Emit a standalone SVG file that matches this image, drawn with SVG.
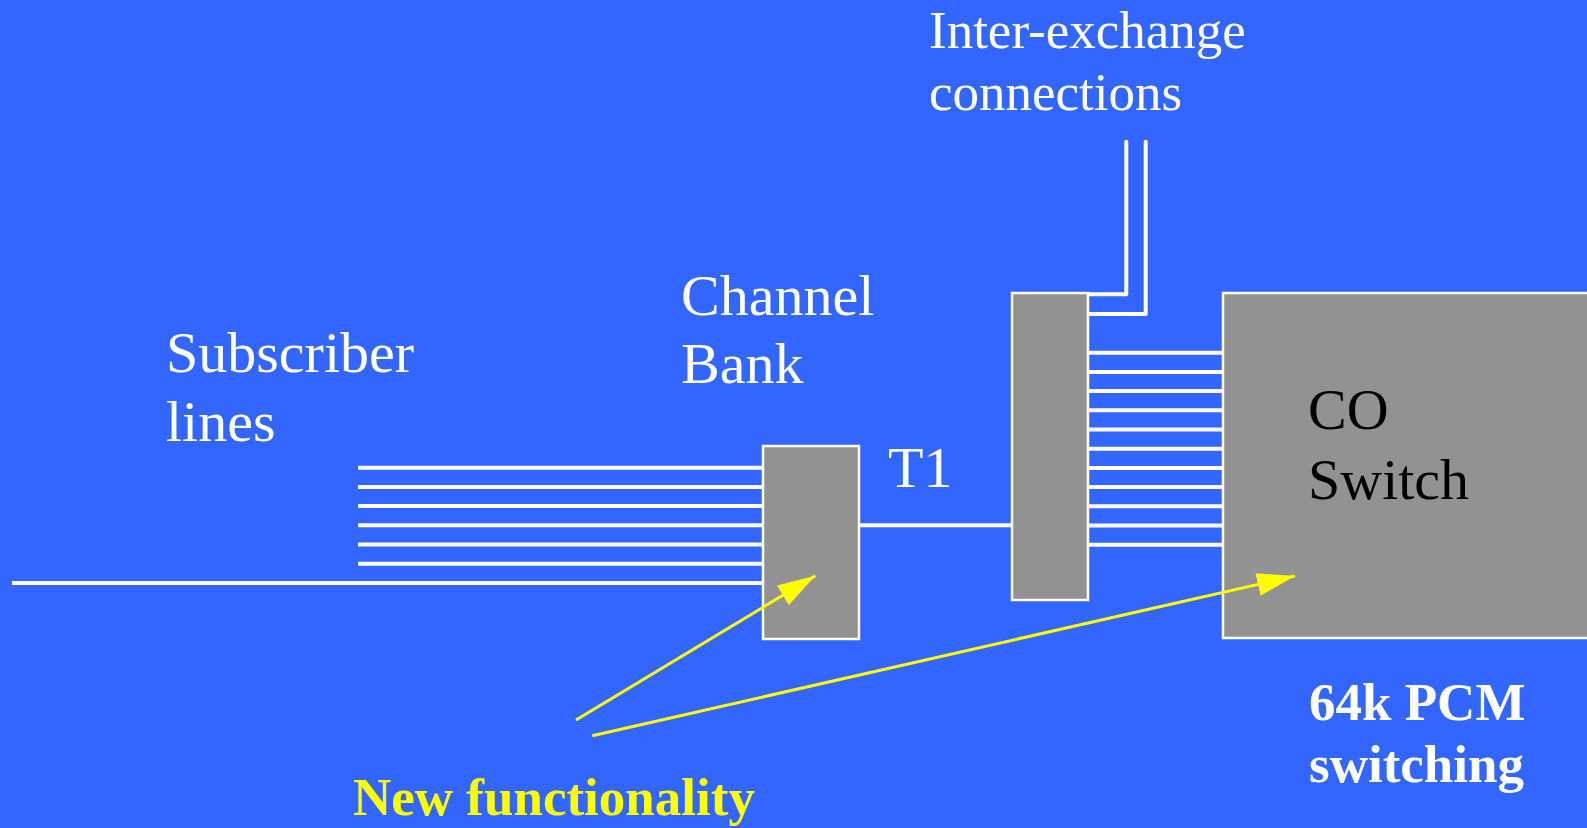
<svg xmlns="http://www.w3.org/2000/svg" width="1587" height="828" viewBox="0 0 1587 828">
<defs>
<style>
.bg{fill:#3366FF}
.box{fill:#929292;stroke:#FFFFFF;stroke-width:2.5}
.wire{stroke:#FFFFFF;stroke-width:4;fill:none;stroke-linecap:butt}
.ix{stroke:#FFFFFF;stroke-width:4;fill:none;stroke-linecap:round;stroke-linejoin:round}
.ptr{stroke:#FFFF00;stroke-width:3;fill:none}
.t{font-family:"Liberation Serif","Times New Roman",serif;fill:#FFFFFF}
.blk{fill:#000000}
.b{font-weight:bold}
.y{fill:#FFFF00}
</style>
<marker id="ah" markerUnits="userSpaceOnUse" markerWidth="40" markerHeight="24" refX="38" refY="11.5" orient="auto" viewBox="0 0 40 24">
<path d="M0,0 L38,11.5 L0,23 Z" fill="#FFFF00"/>
</marker>
</defs>
<rect class="bg" x="0" y="0" width="1587" height="828"/>

<g id="connectors">
<line class="wire" x1="358" y1="467.7" x2="763" y2="467.7"/>
<line class="wire" x1="358" y1="486.9" x2="763" y2="486.9"/>
<line class="wire" x1="358" y1="506.1" x2="763" y2="506.1"/>
<line class="wire" x1="358" y1="525.3" x2="763" y2="525.3"/>
<line class="wire" x1="358" y1="544.5" x2="763" y2="544.5"/>
<line class="wire" x1="358" y1="563.7" x2="763" y2="563.7"/>
<line class="wire" x1="12" y1="583" x2="763" y2="583"/>
<line class="wire" x1="859" y1="525.3" x2="1012" y2="525.3"/>
<line class="wire" x1="1088" y1="352.7" x2="1223" y2="352.7"/>
<line class="wire" x1="1088" y1="371.9" x2="1223" y2="371.9"/>
<line class="wire" x1="1088" y1="391.1" x2="1223" y2="391.1"/>
<line class="wire" x1="1088" y1="410.3" x2="1223" y2="410.3"/>
<line class="wire" x1="1088" y1="429.5" x2="1223" y2="429.5"/>
<line class="wire" x1="1088" y1="448.7" x2="1223" y2="448.7"/>
<line class="wire" x1="1088" y1="467.9" x2="1223" y2="467.9"/>
<line class="wire" x1="1088" y1="487.1" x2="1223" y2="487.1"/>
<line class="wire" x1="1088" y1="506.3" x2="1223" y2="506.3"/>
<line class="wire" x1="1088" y1="525.5" x2="1223" y2="525.5"/>
<line class="wire" x1="1088" y1="544.7" x2="1223" y2="544.7"/>
<path class="ix" d="M1088,294.3 H1126.3 V141.7"/>
<path class="ix" d="M1088,314 H1145.7 V141.7"/>
</g>

<g id="channel-bank">
<rect class="box" x="763" y="446" width="96" height="193"/>
</g>
<g id="trunk-interface">
<rect class="box" x="1012" y="293" width="76" height="307"/>
</g>
<g id="co-switch">
<rect class="box" x="1223" y="293" width="380" height="345"/>
<text class="t blk" x="1308" y="429" font-size="58">CO</text>
<text class="t blk" x="1308" y="499" font-size="58">Switch</text>
</g>

<g id="pointers">
<line class="ptr" x1="576" y1="720" x2="815.3" y2="575.7" marker-end="url(#ah)"/>
<line class="ptr" x1="592.3" y1="735.7" x2="1295" y2="576" marker-end="url(#ah)"/>
</g>

<g id="labels">
<text class="t" x="929" y="48" font-size="53">Inter-exchange</text>
<text class="t" x="929" y="110" font-size="53">connections</text>
<text class="t" x="681" y="315" font-size="58">Channel</text>
<text class="t" x="681" y="383" font-size="58">Bank</text>
<text class="t" x="166" y="372" font-size="58">Subscriber</text>
<text class="t" x="166" y="441" font-size="58">lines</text>
<text class="t" x="888" y="487" font-size="58">T1</text>
<text class="t b" x="1309" y="720" font-size="53">64k PCM</text>
<text class="t b" x="1309" y="782" font-size="53">switching</text>
<text class="t b y" x="353" y="815" font-size="53">New functionality</text>
</g>
</svg>
